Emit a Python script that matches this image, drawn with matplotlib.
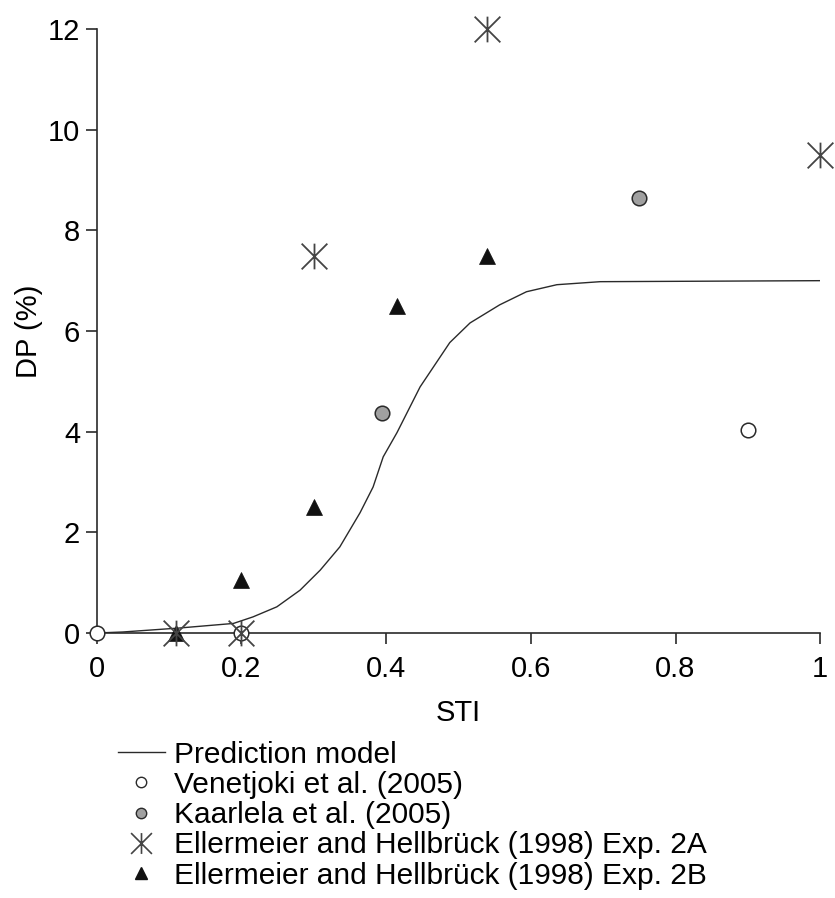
import matplotlib.pyplot as plt
from matplotlib.lines import Line2D
from matplotlib.path import Path

plt.rcParams['font.family'] = ['Liberation Sans', 'DejaVu Sans']
plt.rcParams['font.size'] = 21

# prediction model curve
model_sti = [0.0, 0.036, 0.115, 0.189, 0.216, 0.249, 0.281, 0.309, 0.336, 0.364,
             0.382, 0.396, 0.415, 0.447, 0.488, 0.516, 0.557, 0.594, 0.636, 0.696, 1.0]
model_dp = [0.0, 0.02, 0.1, 0.19, 0.32, 0.52, 0.85, 1.25, 1.71, 2.39,
            2.9, 3.5, 3.98, 4.89, 5.77, 6.16, 6.52, 6.78, 6.92, 6.98, 7.0]

# measured data
venetjoki_sti = [0.0, 0.2, 0.9]
venetjoki_dp = [0.0, 0.0, 4.04]

kaarlela_sti = [0.395, 0.75]
kaarlela_dp = [4.37, 8.65]

exp2a_sti = [0.11, 0.2, 0.3, 0.54, 1.0]
exp2a_dp = [0.0, 0.0, 7.5, 12.0, 9.5]

exp2b_sti = [0.11, 0.2, 0.3, 0.415, 0.54]
exp2b_dp = [0.0, 1.05, 2.5, 6.5, 7.5]

x_ticks = [0, 0.2, 0.4, 0.6, 0.8, 1.0]
x_ticklabels = ["0", "0.2", "0.4", "0.6", "0.8", "1"]
y_ticks = [0, 2, 4, 6, 8, 10, 12]

# asterisk: X plus a vertical bar
STAR = Path([(-1, -1), (1, 1), (-1, 1), (1, -1), (0, -1), (0, 1)],
            [Path.MOVETO, Path.LINETO, Path.MOVETO, Path.LINETO, Path.MOVETO, Path.LINETO])

LINE_C = "#2a2a2a"
STAR_C = "#444444"

fig = plt.figure(figsize=(8.35, 8.98), dpi=100)
ax = fig.add_axes([0.1158, 0.2951, 0.8665, 0.6726])

ax.plot(model_sti, model_dp, color=LINE_C, lw=1.0, zorder=2)

ax.plot(venetjoki_sti, venetjoki_dp, ls='none', marker='o', ms=10.5,
        mfc='white', mec=LINE_C, mew=1.1, clip_on=False, zorder=3)
ax.plot(kaarlela_sti, kaarlela_dp, ls='none', marker='o', ms=10.5,
        mfc='#a0a0a0', mec=LINE_C, mew=1.1, clip_on=False, zorder=3)
ax.plot(exp2b_sti, exp2b_dp, ls='none', marker='^', ms=11,
        mfc='#111111', mec='#111111', mew=0.5, clip_on=False, zorder=4)
ax.plot(exp2a_sti, exp2a_dp, ls='none', marker=STAR, ms=18.5,
        mfc='none', mec=STAR_C, mew=1.3, clip_on=False, zorder=5)

ax.set_xlim(0, 1)
ax.set_ylim(0, 12)
ax.set_xticks(x_ticks)
ax.set_xticklabels(x_ticklabels)
ax.set_yticks(y_ticks)
for side in ["top", "right"]:
    ax.spines[side].set_visible(False)
for side in ["left", "bottom"]:
    ax.spines[side].set_linewidth(1.2)
    ax.spines[side].set_color(LINE_C)
ax.tick_params(direction='out', length=8, width=1.2, color=LINE_C)
ax.tick_params(axis='x', pad=8)
ax.tick_params(axis='y', pad=4)

ax.set_xlabel("STI", labelpad=11)
ax.set_ylabel("DP (%)", labelpad=3)

handles = [
    Line2D([], [], color=LINE_C, lw=1.0),
    Line2D([], [], ls='none', marker='o', ms=7.5, mfc='white', mec=LINE_C, mew=1.0),
    Line2D([], [], ls='none', marker='o', ms=7.5, mfc='#a0a0a0', mec=LINE_C, mew=1.0),
    Line2D([], [], ls='none', marker=STAR, ms=15, mfc='none', mec=STAR_C, mew=1.2),
    Line2D([], [], ls='none', marker='^', ms=9, mfc='#111111', mec='#111111'),
]
labels = [
    "Prediction model",
    "Venetjoki et al. (2005)",
    "Kaarlela et al. (2005)",
    "Ellermeier and Hellbrück (1998) Exp. 2A",
    "Ellermeier and Hellbrück (1998) Exp. 2B",
]
fig.legend(handles, labels, loc='upper left', bbox_to_anchor=(0.141, 0.1752),
           frameon=False, borderpad=0, borderaxespad=0, handlelength=1.57,
           handletextpad=0.33, labelspacing=0.075, fontsize=21.5)

fig.savefig("out.png", dpi=100)
